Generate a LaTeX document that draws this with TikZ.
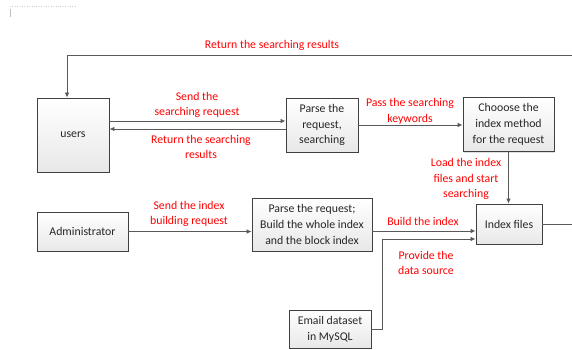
\documentclass[tikz,border=0pt]{standalone}
\usepackage{fontspec}
\setmainfont{Carlito}
\usetikzlibrary{arrows.meta,shadows}
\tikzset{
  procbox/.style={draw=black!75, line width=0.9pt, top color=white, bottom color=black!9,
    drop shadow={opacity=0.25, shadow xshift=1pt, shadow yshift=-1pt},
    align=center, inner sep=1pt, text=black!85, font=\fontsize{11.8}{15.8}\selectfont},
  note/.style={text=red, align=center, inner sep=0pt, font=\fontsize{11.8}{15.8}\selectfont},
  flow/.style={draw=black!65, line width=0.8pt, -{Latex[length=5pt,width=4.5pt]}},
  plain/.style={draw=black!65, line width=0.8pt},
}
\begin{document}
\begin{tikzpicture}[x=1pt,y=-1pt]
    \useasboundingbox (0,0) rectangle (572,350);
    % page corner marks
    \draw[black!20, dotted] (10,6) -- (76,6);
    \draw[black!25] (10,9) -- (10,17);
    % boxes
    \node[procbox, minimum width=72pt, minimum height=74pt] (users) at (73,135) {users};
    \node[procbox, minimum width=72pt, minimum height=54pt] (parse) at (322,125) {Parse the\\request,\\searching};
    \node[procbox, minimum width=91pt, minimum height=54pt] (choose) at (508.5,124.5) {Chooose the\\index method\\for the request};
    \node[procbox, minimum width=91pt, minimum height=39pt] (admin) at (82.5,231.5) {Administrator};
    \node[procbox, minimum width=120pt, minimum height=53pt] (build) at (312,224.5) {Parse the request;\\Build the whole index\\and the block index};
    \node[procbox, minimum width=66pt, minimum height=40pt] (index) at (509,224) {Index files};
    \node[procbox, minimum width=82pt, minimum height=38pt] (email) at (330,329) {Email dataset\\in MySQL};
    % connectors
    \coordinate (outA) at (572,224);
    \coordinate (outB) at (572,55);
    \coordinate (s1) at ([yshift=4pt]parse.west);
    \coordinate (s2) at ([yshift=-4pt]parse.west);
    \coordinate (b1) at ([yshift=-7pt]index.west);
    \coordinate (b2) at ([yshift=-15pt]index.west);
    \draw[flow] (outB) -| ([xshift=-6pt]users.north);
    \draw[flow] (users.east |- s1) -- (s1);
    \draw[flow] (s2) -- (users.east |- s2);
    \draw[flow] (parse.east) -- (parse.east -| choose.west);
    \draw[flow] (choose.south) -- (choose.south |- index.north);
    \draw[flow] (admin.east) -- (admin.east -| build.west);
    \draw[flow] (build.east |- b1) -- (b1);
    \draw[flow] (email.east) -- ++(11,0) |- (b2);
    \draw[plain] (index.east) -- (outA);
    % labels
    \node[note] (lret) at (272,45) {Return the searching results};
    \node[note] (lsend) at (197,105) {Send the\\searching request};
    \node[note] (lback) at (201,147) {Return the searching\\results};
    \node[note] (lpass) at (410,111) {Pass the searching\\keywords};
    \node[note] (lload) at (466,179) {Load the index\\files and start\\searching};
    \node[note] (lreq) at (189,214) {Send the index\\building request};
    \node[note] (lbuild) at (423,221) {Build the index};
    \node[note] (lprov) at (426,263) {Provide the\\data source};
  \end{tikzpicture}
\end{document}
